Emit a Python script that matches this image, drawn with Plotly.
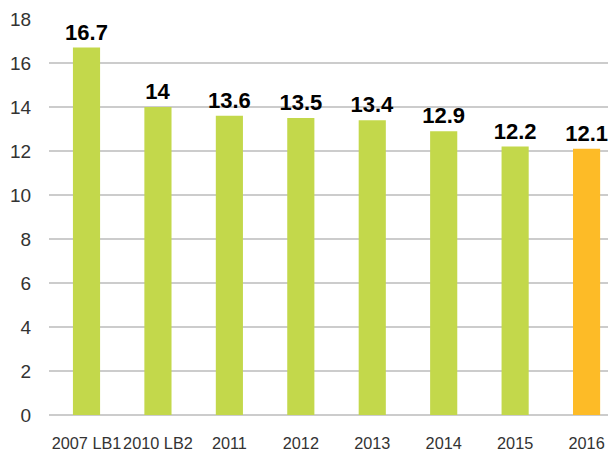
import plotly.graph_objects as go

categories = ["2007 LB1", "2010 LB2", "2011", "2012", "2013", "2014", "2015", "2016"]
values = [16.7, 14, 13.6, 13.5, 13.4, 12.9, 12.2, 12.1]
labels = ["16.7", "14", "13.6", "13.5", "13.4", "12.9", "12.2", "12.1"]
y_ticks = [0, 2, 4, 6, 8, 10, 12, 14, 16, 18]

green = "#C3D84B"
orange = "#FDBB27"
colors = [green] * 7 + [orange]

fig = go.Figure(
    go.Bar(
        x=categories,
        y=values,
        text=labels,
        textposition="outside",
        constraintext="none",
        cliponaxis=False,
        textfont=dict(family="Liberation Sans", size=22, color="#000000", weight="bold"),
        marker=dict(color=colors, line=dict(width=0)),
        width=0.38,
        hoverinfo="skip",
    )
)

fig.update_layout(
    width=608,
    height=452,
    margin=dict(l=49, r=0, t=19, b=37),
    paper_bgcolor="white",
    plot_bgcolor="white",
    showlegend=False,
    font=dict(family="Liberation Sans", color="#333333"),
    xaxis=dict(
        type="category",
        range=[-0.525, 7.3],
        showgrid=False,
        showline=False,
        zeroline=False,
        ticks="outside",
        ticklen=13,
        tickangle=0,
        tickcolor="rgba(0,0,0,0)",
        tickfont=dict(size=16.3, color="#333333"),
    ),
    yaxis=dict(
        range=[0, 18],
        tickvals=y_ticks,
        showgrid=True,
        gridcolor="#CCCCCC",
        gridwidth=1.5,
        zeroline=True,
        zerolinecolor="#CCCCCC",
        zerolinewidth=1.5,
        showline=False,
        ticks="outside",
        ticklen=13,
        tickcolor="rgba(0,0,0,0)",
        tickfont=dict(size=19, color="#333333"),
    ),
)

fig.write_html(
    "out.html",
    config={"displayModeBar": False, "staticPlot": True},
    post_script="document.body.style.margin='0';document.body.style.overflow='hidden';",
)
